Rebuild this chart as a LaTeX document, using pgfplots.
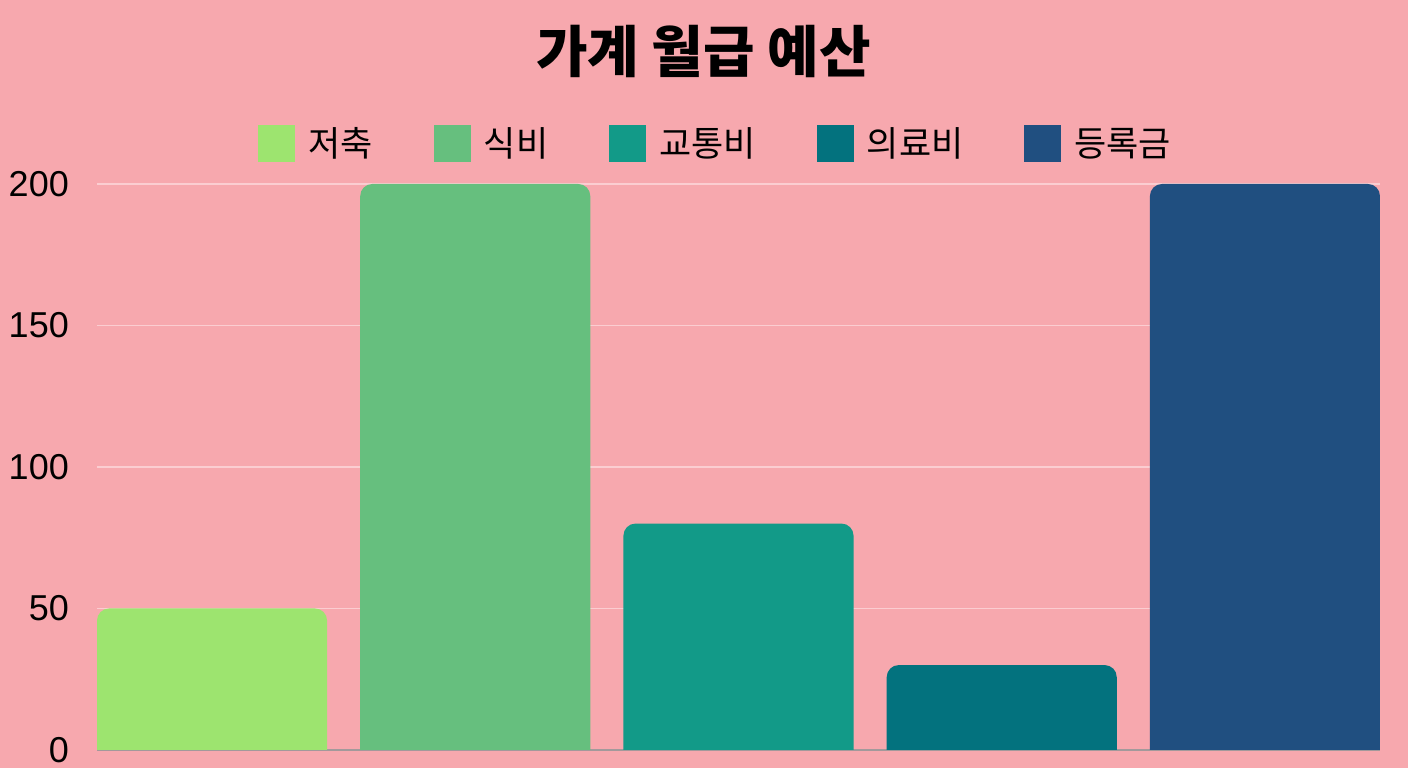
\documentclass[border=0pt]{standalone}
\usepackage{pgfplots}
\pgfplotsset{compat=1.18}
\usepackage{fontspec}
\setmainfont{Noto Sans CJK KR}
\newfontfamily\numfont{Liberation Sans}
\definecolor{bgpink}{HTML}{F7A8AE}
\definecolor{gridc}{HTML}{FBCDD1}
\definecolor{axc}{HTML}{A3999B}
\definecolor{cA}{HTML}{9DE46F}
\definecolor{cB}{HTML}{66BF7E}
\definecolor{cC}{HTML}{129A88}
\definecolor{cD}{HTML}{03727E}
\definecolor{cE}{HTML}{204F80}
\begin{document}
\begin{tikzpicture}
\fill[bgpink] (0,0) rectangle (1408pt,768pt);
\begin{axis}[
  at={(97pt,18pt)}, anchor=south west,
  scale only axis, width=1283pt, height=566pt,
  xmin=-0.437, xmax=4.437, ymin=0, ymax=200,
  clip=true,
  axis x line=bottom, axis y line=left,
  x axis line style={draw=axc, line width=1.5pt, -},
  y axis line style={draw=none},
  xtick=\empty,
  ytick={0,50,100,150,200},
  major tick length=0pt,
  ymajorgrids,
  grid style={draw=gridc, line width=1.2pt},
  /pgf/number format/assume math mode=true,
  yticklabel style={font=\numfont\fontsize{36}{36}\selectfont, anchor=east, inner sep=0pt, xshift=-28pt},
  legend columns=-1,
  legend style={draw=none, fill=none, at={(0.4815,1.0724)}, anchor=center,
    font=\fontsize{35}{35}\selectfont,
    nodes={inner sep=0pt},
    /tikz/every odd column/.append style={column sep=13pt},
    /tikz/every even column/.append style={column sep=61pt}},
  legend image code/.code={\fill[#1, sharp corners] (0pt,-18.5pt) rectangle (37pt,18.5pt);},
  every axis plot/.append style={draw=none, rounded corners=12pt},
]
% bars: x centre +- 0.437 (bar width), bottom edge below the axis is clipped
\addplot[fill=cA] coordinates {(-0.437,-10) (-0.437,50) (0.437,50) (0.437,-10)} -- cycle;
\addplot[fill=cB] coordinates {(0.563,-10) (0.563,200) (1.437,200) (1.437,-10)} -- cycle;
\addplot[fill=cC] coordinates {(1.563,-10) (1.563,80) (2.437,80) (2.437,-10)} -- cycle;
\addplot[fill=cD] coordinates {(2.563,-10) (2.563,30) (3.437,30) (3.437,-10)} -- cycle;
\addplot[fill=cE] coordinates {(3.563,-10) (3.563,200) (4.437,200) (4.437,-10)} -- cycle;
\legend{저축, 식비, 교통비, 의료비, 등록금}
\end{axis}
\node[font=\bfseries\fontsize{56}{56}\selectfont, inner sep=0pt] at (703.5pt,717pt) {가계 월급 예산};
\end{tikzpicture}
\end{document}
